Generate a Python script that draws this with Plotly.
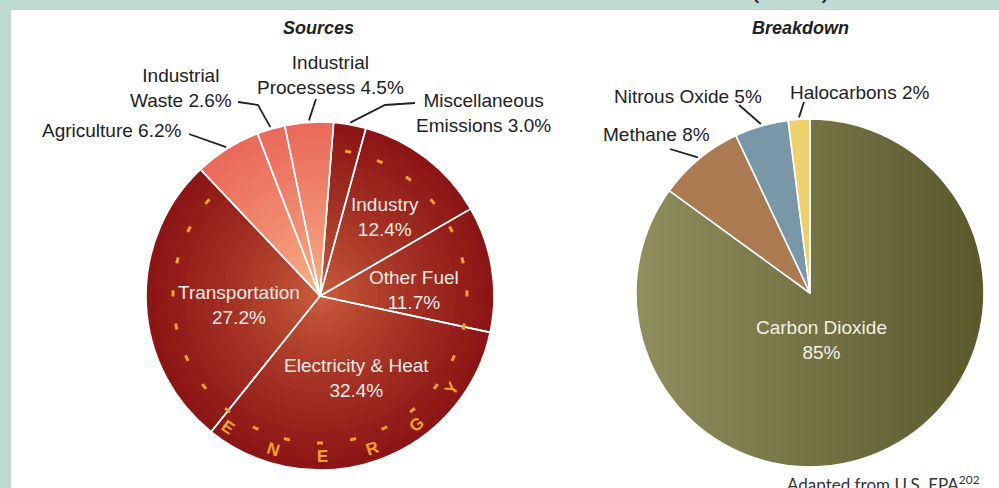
import numpy as np
import plotly.graph_objects as go

W, H = 999, 488

# ---------------- data ----------------
source_names = ["Miscellaneous<br>Emissions", "Industry", "Other Fuel", "Electricity & Heat",
                "Transportation", "Agriculture", "Industrial<br>Waste", "Industrial<br>Processess"]
source_values = [3.0, 12.4, 11.7, 32.4, 27.2, 6.2, 2.6, 4.5]
source_is_energy = [True, True, True, True, True, False, False, False]

gas_names = ["Carbon Dioxide", "Methane", "Nitrous Oxide", "Halocarbons"]
gas_values = [85, 8, 5, 2]

energy_letters = list("ENERGY")

# ---------------- layout / style ----------------
FONT = "Liberation Sans, Arial, Helvetica, sans-serif"
TEAL = "#bddbd3"
LEFT_C, RIGHT_C, RADIUS = (320, 296), (810, 293), 174
ROT_LEFT, ROT_RIGHT = 4.5, 0.0

energy_center, energy_edge = (206, 96, 62), (138, 20, 20)
other_center, other_edge = (249, 185, 138), (234, 104, 90)
# CO2 slice is translucent over a left-to-right shading disk
gas_colors = ["rgba(114,113,56,0.79)", "#ab7a51", "#7898a8", "#efd06e"]

# label placement (pixels): text centre, separator, anchor, leader bend points
source_label_cfg = [
    dict(xy=(483, 113), sep=" ", inside=False, xanchor="center", bends=[(415, 103), (385, 105)]),
    dict(xy=(385, 217), sep="<br>", inside=True),
    dict(xy=(414, 290), sep="<br>", inside=True),
    dict(xy=(356, 378), sep="<br>", inside=True),
    dict(xy=(239, 305), sep="<br>", inside=True),
    dict(xy=(184, 130), sep=" ", inside=False, xanchor="right", bends=[(189, 134)]),
    dict(xy=(181, 88), sep=" ", inside=False, xanchor="center", bends=[(238, 102), (258, 105)]),
    dict(xy=(330, 75), sep=" ", inside=False, xanchor="center", bends=[(316, 99)]),
]
gas_label_cfg = [
    dict(xy=(821, 340), sep="<br>", inside=True),
    dict(xy=(656, 134), sep=" ", inside=False, xanchor="center", bends=[(670, 149)]),
    dict(xy=(688, 97), sep=" ", inside=False, xanchor="center", bends=[(739, 105)]),
    dict(xy=(860, 92), sep=" ", inside=False, xanchor="center", bends=[(804, 102)]),
]


def px(x):
    return x / W


def py(y):
    return 1 - y / H


def domain_for(c, r):
    return dict(x=[px(c[0] - r), px(c[0] + r)], y=[py(c[1] + r), py(c[1] - r)])


def mid_angles(values, rotation):
    tot = float(sum(values))
    cum = np.cumsum([0] + list(values))
    return [rotation + 360.0 * (cum[i] + values[i] / 2.0) / tot for i in range(len(values))]


def polar_px(c, r, ang):
    a = np.deg2rad(ang)
    return c[0] + r * np.sin(a), c[1] - r * np.cos(a)


def lerp(c0, c1, t):
    return "rgb(%d,%d,%d)" % tuple(int(round(a + (b - a) * t)) for a, b in zip(c0, c1))


fig = go.Figure()

# ---- shading disk under the right pie (horizontal light-to-dark) ----
theta = np.linspace(0, 360, 181)
disk_x, disk_y = polar_px(RIGHT_C, RADIUS - 0.5, theta)
fig.add_trace(go.Scatter(
    x=disk_x, y=disk_y, mode="lines", fill="toself", line=dict(width=0),
    fillgradient=dict(type="horizontal",
                      colorscale=[[0, "rgb(255,250,235)"], [1, "rgb(0,0,0)"]]),
    hoverinfo="skip", showlegend=False))

# ---- left pie: stacked layers to imitate the radial shading ----
N_LAYERS = 18
for k in range(N_LAYERS):
    r = RADIUS * (1 - k / N_LAYERS)
    t = ((N_LAYERS - k - 0.5) / N_LAYERS) ** 0.75
    cols = [lerp(energy_center, energy_edge, t) if e else lerp(other_center, other_edge, t)
            for e in source_is_energy]
    fig.add_trace(go.Pie(
        values=source_values, labels=source_names, sort=False, direction="clockwise",
        rotation=ROT_LEFT, textinfo="none", hoverinfo="skip", showlegend=False,
        marker=dict(colors=cols, line=dict(width=0)), domain=domain_for(LEFT_C, r)))

# white separators on top
fig.add_trace(go.Pie(
    values=source_values, labels=source_names, sort=False, direction="clockwise",
    rotation=ROT_LEFT, textinfo="none", showlegend=False,
    hovertemplate="%{label}: %{value}%<extra></extra>",
    marker=dict(colors=["rgba(0,0,0,0)"] * len(source_values), line=dict(color="white", width=1.6)),
    domain=domain_for(LEFT_C, RADIUS)))

# ---- right pie ----
fig.add_trace(go.Pie(
    values=gas_values, labels=gas_names, sort=False, direction="clockwise",
    rotation=ROT_RIGHT, textinfo="none", showlegend=False,
    hovertemplate="%{label}: %{value}%<extra></extra>",
    marker=dict(colors=gas_colors, line=dict(color="white", width=1.6)),
    domain=domain_for(RIGHT_C, RADIUS)))

annotations = []
shapes = [dict(type="rect", xref="paper", yref="paper", x0=px(11), x1=1.01, y0=-0.01, y1=py(10),
               fillcolor="white", line=dict(width=0), layer="below")]


def add_labels(names, values, cfgs, centre, rotation, fmt, inside_color):
    mids = mid_angles(values, rotation)
    for name, val, cfg, ang in zip(names, values, cfgs, mids):
        text = name + cfg["sep"] + fmt(val)
        x, y = cfg["xy"]
        if cfg["inside"]:
            annotations.append(dict(x=px(x), y=py(y), xref="paper", yref="paper", text=text,
                                    showarrow=False, font=dict(family=FONT, size=19, color=inside_color),
                                    xanchor="center", yanchor="middle", align="center"))
        else:
            annotations.append(dict(x=px(x), y=py(y), xref="paper", yref="paper", text=text,
                                    showarrow=False, font=dict(family=FONT, size=19, color="#222222"),
                                    xanchor=cfg["xanchor"], yanchor="middle", align="center"))
            ex, ey = polar_px(centre, RADIUS + 2, ang)
            pts = cfg["bends"] + [(ex, ey)]
            path = "M %.5f %.5f " % (px(pts[0][0]), py(pts[0][1]))
            path += " ".join("L %.5f %.5f" % (px(a), py(b)) for a, b in pts[1:])
            shapes.append(dict(type="path", xref="paper", yref="paper", path=path,
                               line=dict(color="#222222", width=1.8), layer="above"))


add_labels(source_names, source_values, source_label_cfg, LEFT_C, ROT_LEFT,
           lambda v: "%.1f%%" % v, "#f9ebe4")
add_labels(gas_names, gas_values, gas_label_cfg, RIGHT_C, ROT_RIGHT,
           lambda v: "%d%%" % v, "#f2f1e6")

# ---- ENERGY ring decoration ----
DASH_R, LETTER_R = 147, 161
ORANGE = "#f2a12a"
for a in np.arange(11, 313, 13):
    x0, y0 = polar_px(LEFT_C, DASH_R, a - 1.2)
    x1, y1 = polar_px(LEFT_C, DASH_R, a + 1.2)
    shapes.append(dict(type="line", xref="paper", yref="paper", x0=px(x0), y0=py(y0),
                       x1=px(x1), y1=py(y1), line=dict(color=ORANGE, width=3), layer="above"))
for i, ch in enumerate(energy_letters):
    a = 215 - 18 * i
    x, y = polar_px(LEFT_C, LETTER_R, a)
    annotations.append(dict(x=px(x), y=py(y), xref="paper", yref="paper", text="<b>%s</b>" % ch,
                            showarrow=False, textangle=a - 180,
                            font=dict(family=FONT, size=17, color=ORANGE),
                            xanchor="center", yanchor="middle"))

# ---- titles & notes ----
for txt, x in [("Sources", 318), ("Breakdown", 800)]:
    annotations.append(dict(x=px(x), y=py(28), xref="paper", yref="paper",
                            text="<b><i>%s</i></b>" % txt, showarrow=False,
                            font=dict(family=FONT, size=18, color="#222222"),
                            xanchor="center", yanchor="middle"))
annotations.append(dict(x=px(790), y=py(-13), xref="paper", yref="paper", text="(2010)",
                        showarrow=False, font=dict(family=FONT, size=28, color="#222222"),
                        xanchor="center", yanchor="middle"))
annotations.append(dict(x=px(982), y=py(483.5), xref="paper", yref="paper",
                        text="Adapted from U.S. EPA<sup>202</sup>", showarrow=False,
                        font=dict(family="Lato, Open Sans, sans-serif", size=17, color="#333333"),
                        xanchor="right", yanchor="middle"))

fig.update_layout(width=W, height=H, margin=dict(l=0, r=0, t=0, b=0),
                  paper_bgcolor=TEAL, plot_bgcolor="rgba(0,0,0,0)", showlegend=False,
                  xaxis=dict(range=[0, W], domain=[0, 1], visible=False, fixedrange=True),
                  yaxis=dict(range=[H, 0], domain=[0, 1], visible=False, fixedrange=True),
                  annotations=annotations, shapes=shapes)

fig.write_html("out.html", config={"displayModeBar": False},
               post_script="document.body.style.margin='0';")
